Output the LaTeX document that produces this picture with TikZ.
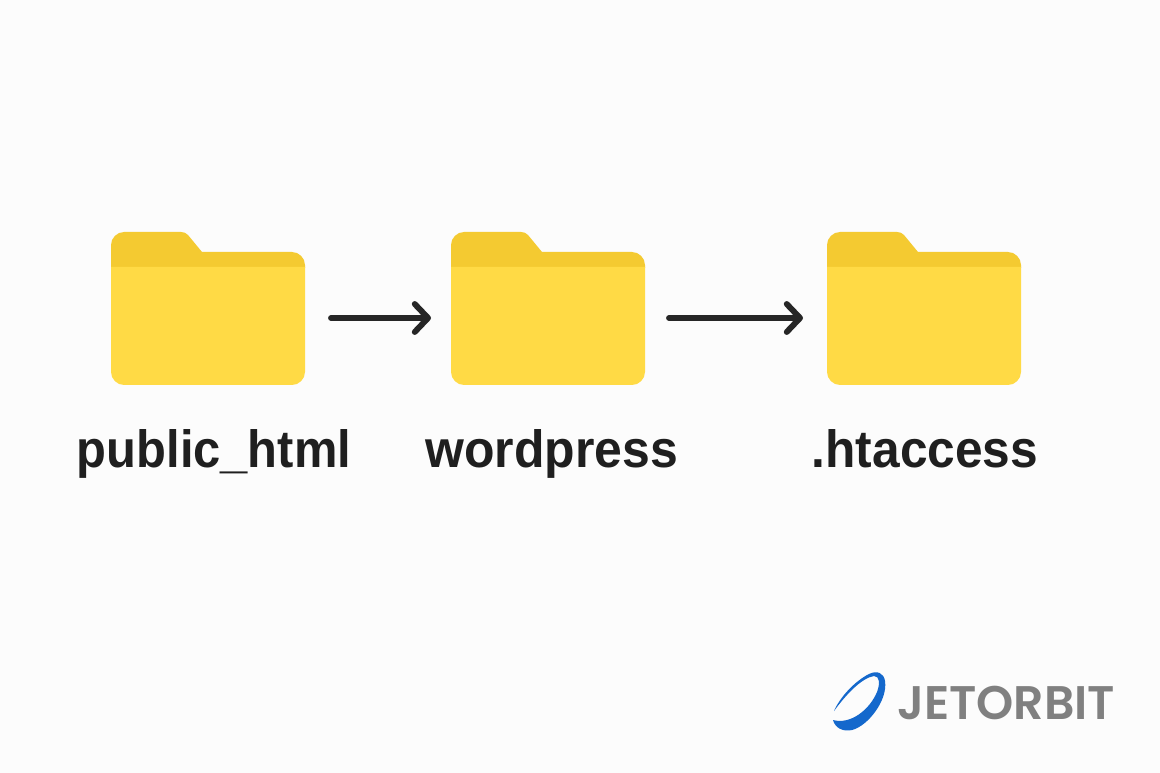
\documentclass[tikz,border=0pt]{standalone}
\usepackage{graphicx}
\usepackage{fontspec}
\setmainfont{Liberation Sans}
\newfontfamily\logofont{Poppins SemiBold}
\usetikzlibrary{arrows.meta}
\definecolor{pagebg}{HTML}{FCFCFC}
\definecolor{folderbody}{HTML}{FFDA45}
\definecolor{foldertab}{HTML}{F4CA31}
\definecolor{inkdark}{HTML}{262626}
\definecolor{logogray}{HTML}{808080}
\definecolor{logoblue}{HTML}{1468CC}
\tikzset{
  x=0.75pt,y=-0.75pt,
  folder/.pic={
    \fill[foldertab] (0,268) -- (0,245) .. controls (0,238) and (6,232) .. (13,232) -- (70,232)
      .. controls (73,232) and (75,233) .. (77,235) -- (91,252) -- (181,252)
      .. controls (188,252) and (194,258) .. (194,265) -- (194,268) -- cycle;
    \fill[folderbody] (0,267) -- (194,267) -- (194,372) .. controls (194,379) and (188,385) .. (181,385)
      -- (13,385) .. controls (6,385) and (0,379) .. (0,372) -- cycle;
  },
  flow/.style={draw=inkdark,line width=4.4pt,line cap=round,
    -{Straight Barb[round,length=10pt,width=21pt]}},
  filename/.style={font=\fontsize{36.4pt}{40pt}\selectfont\bfseries,text=black!88,anchor=base,inner sep=0pt},
}
\begin{document}
\begin{tikzpicture}
\useasboundingbox (0,0) rectangle (1160,773);
\fill[pagebg] (0,0) rectangle (1160,773);
\pic at (111,0) {folder};
\pic at (451,0) {folder};
\pic at (827,0) {folder};
\node[filename] (lblone) at (214,467) {\scalebox{1.007}[1.08]{public\_html}};
\node[filename] (lbltwo) at (551.5,467) {\scalebox{1.029}[1.08]{wordpress}};
\node[filename] (lblthree) at (925,467) {\scalebox{1.023}[1.08]{.htaccess}};
\coordinate (aone) at (331,318);
\coordinate (bone) at (431,318);
\coordinate (atwo) at (669,318);
\coordinate (btwo) at (803,318);
\draw[flow] (aone) -- (bone);
\draw[flow] (atwo) -- (btwo);
\fill[logoblue]
  (833,720) .. controls (835,728) and (843,732) .. (852,730)
  .. controls (868,726) and (888,700) .. (885,681)
  .. controls (884,673) and (877,670) .. (869,674)
  .. controls (855,681) and (840,697) .. (834,711)
  .. controls (845,696) and (861,678) .. (874,676)
  .. controls (880,676) and (880,684) .. (877,692)
  .. controls (870,709) and (851,725) .. (833,720) -- cycle;
\node[text=logogray,font=\logofont\fontsize{35pt}{38pt}\selectfont,anchor=base west,inner sep=0pt] (logo) at (897,719) {\resizebox{163.5pt}{25pt}{JETORBIT}};
\end{tikzpicture}
\end{document}
